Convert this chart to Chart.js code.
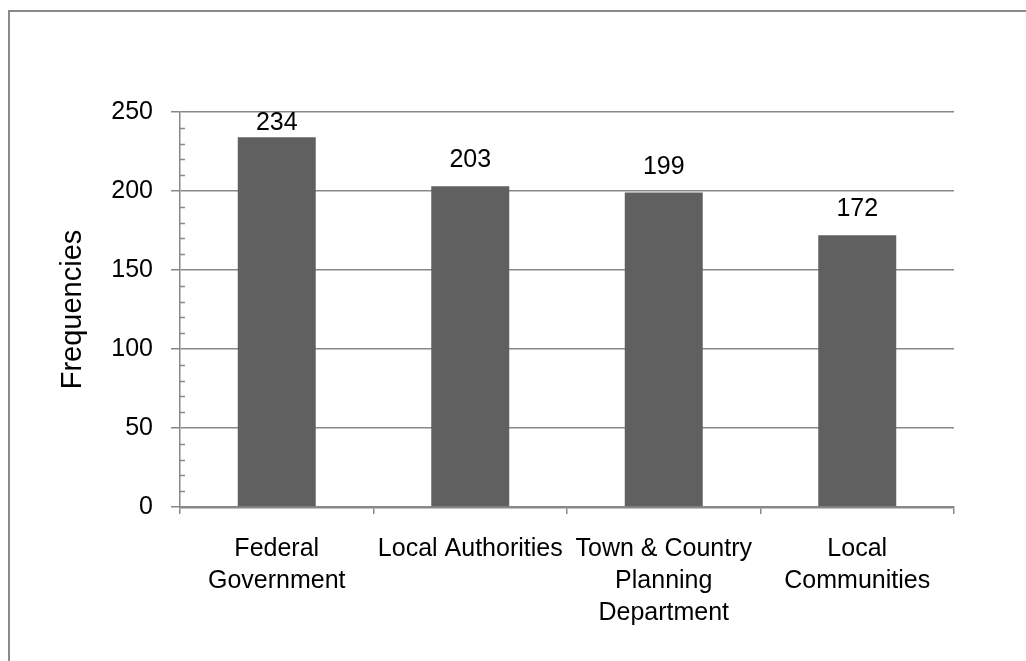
<!DOCTYPE html>
<html lang="en">
<head>
    <meta charset="UTF-8">
    <title>Frequencies</title>
    <script src="https://cdn.jsdelivr.net/npm/chart.js"></script>
    <style>
        body { margin: 0; background: #fff; }
        #wrap { position: relative; width: 1026px; height: 661px; overflow: hidden; }
        #frame { position: absolute; left: 8px; top: 10px; width: 1200px; height: 800px;
                 border-top: 2px solid #8a8a8a; border-left: 2px solid #8a8a8a; }
        canvas { position: absolute; left: 0; top: 0; }
    </style>
</head>
<body>
<div id="wrap">
    <div id="frame"></div>
    <canvas id="barChart" width="1026" height="661"></canvas>
</div>

<script>
    // chart data
    const categories = [
        ['Federal', 'Government'],
        'Local Authorities',
        ['Town & Country', 'Planning', 'Department'],
        ['Local', 'Communities']
    ];
    const frequencies = [234, 203, 199, 172];
    const yMax = 250;
    const yStep = 50;

    const FONT = '"Liberation Sans", Arial, sans-serif';
    const GRID = '#888888';

    // value labels above bars + minor ticks on the y axis
    const extras = {
        id: 'extras',
        afterDatasetsDraw(chart) {
            const ctx = chart.ctx;
            const area = chart.chartArea;
            const meta = chart.getDatasetMeta(0);
            ctx.save();
            ctx.fillStyle = '#000';
            ctx.font = '25px ' + FONT;
            ctx.textAlign = 'center';
            ctx.textBaseline = 'alphabetic';
            meta.data.forEach((bar, i) => {
                let y = bar.y - 19;
                if (y < area.top + 18) y = area.top + 18;
                ctx.fillText(String(frequencies[i]), bar.x, y);
            });

            // minor ticks
            const ys = chart.scales.y;
            ctx.strokeStyle = GRID;
            ctx.lineWidth = 1.5;
            for (let v = 10; v < yMax; v += 10) {
                if (v % yStep === 0) continue;
                const py = Math.round(ys.getPixelForValue(v)) + 0.5;
                ctx.beginPath();
                ctx.moveTo(area.left, py);
                ctx.lineTo(area.left + 5, py);
                ctx.stroke();
            }
            ctx.restore();
        }
    };

    const ctx = document.getElementById('barChart').getContext('2d');
    const chart = new Chart(ctx, {
        type: 'bar',
        data: {
            labels: categories,
            datasets: [{
                label: 'Frequencies',
                data: frequencies,
                backgroundColor: '#606060',
                borderWidth: 0,
                categoryPercentage: 1.0,
                barPercentage: 0.403
            }]
        },
        options: {
            responsive: false,
            animation: false,
            layout: { padding: { left: 0, top: 112, right: 72, bottom: 0 } },
            plugins: {
                legend: { display: false },
                tooltip: { enabled: false }
            },
            scales: {
                x: {
                    grid: {
                        offset: true,
                        drawOnChartArea: false,
                        drawTicks: true,
                        tickLength: 7,
                        color: GRID,
                        lineWidth: 1.5
                    },
                    border: { color: GRID, width: 2.5 },
                    ticks: {
                        color: '#000',
                        padding: 19,
                        maxRotation: 0,
                        autoSkip: false,
                        font: { family: FONT, size: 25, lineHeight: 1.28 }
                    },
                    afterFit(scale) { scale.height = 154; }
                },
                y: {
                    min: 0,
                    max: yMax,
                    ticks: {
                        stepSize: yStep,
                        color: '#000',
                        padding: 18,
                        font: { family: FONT, size: 25 }
                    },
                    grid: {
                        color: GRID,
                        lineWidth: 1.5,
                        tickLength: 9
                    },
                    border: { color: GRID, width: 1.5 },
                    title: {
                        display: true,
                        text: 'Frequencies',
                        color: '#000',
                        font: { family: FONT, size: 29 },
                        padding: { top: 56, bottom: 0 }
                    },
                    afterFit(scale) { scale.width = 180; }
                }
            }
        },
        plugins: [extras]
    });
</script>
</body>
</html>
